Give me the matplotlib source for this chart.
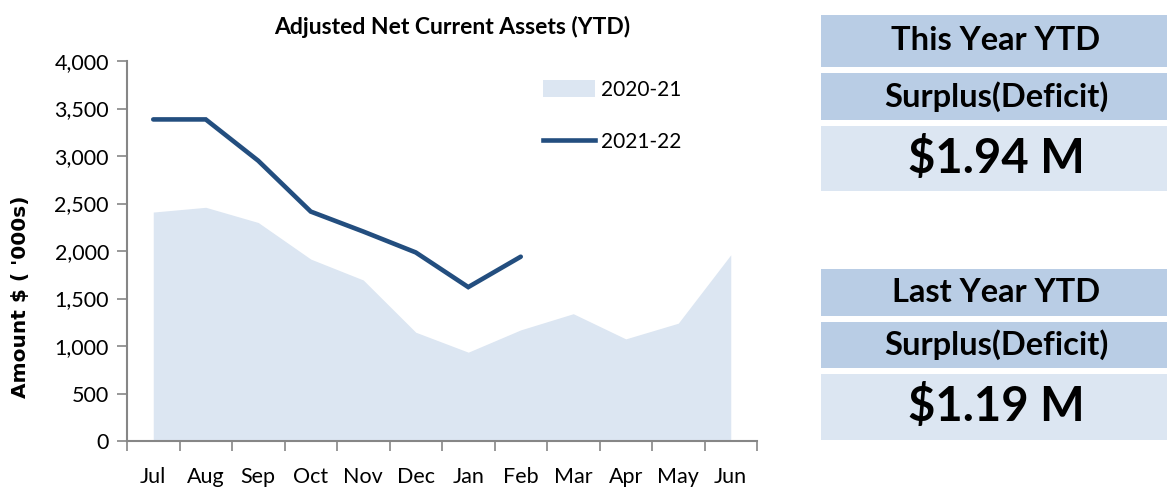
import matplotlib
matplotlib.use("Agg")
import matplotlib.pyplot as plt
from matplotlib.patches import Rectangle, Patch
from matplotlib.lines import Line2D
from matplotlib.ticker import FuncFormatter, FixedLocator

months = ["Jul", "Aug", "Sep", "Oct", "Nov", "Dec", "Jan", "Feb", "Mar", "Apr", "May", "Jun"]
fy2021 = [2410, 2460, 2300, 1915, 1695, 1145, 935, 1170, 1340, 1075, 1240, 1960]
fy2122 = [3385, 3385, 2950, 2415, 2205, 1985, 1620, 1940]
series_names = ["2020-21", "2021-22"]
title = "Adjusted Net Current Assets (YTD)"
ylabel = "Amount $ ( '000s)"
panel_top = ["This Year YTD", "Surplus(Deficit)", "$1.94 M"]
panel_bottom = ["Last Year YTD", "Surplus(Deficit)", "$1.19 M"]

W, H = 1167, 488
fig = plt.figure(figsize=(W / 100, H / 100), dpi=100)

narrow = ["Lato", "DejaVu Sans"]
boldf = ["Lato", "DejaVu Sans"]

DARK = "#B9CDE5"
LIGHT = "#DCE6F2"
LINE = "#234E7F"
AX = "#868686"

def fx(px):
    return px / W

def fy(py):
    return 1 - py / H

ax = fig.add_axes([fx(127), fy(441), fx(757) - fx(127), fy(61) - fy(441)])
xs = list(range(len(months)))
ax.fill_between(xs, fy2021, 0, color=LIGHT, linewidth=0, label=series_names[0])
ax.plot(xs[:len(fy2122)], fy2122, color=LINE, linewidth=3.3, solid_capstyle="round",
        solid_joinstyle="miter", label=series_names[1])
ax.set_xlim(-0.5, len(months) - 0.5)
ax.set_ylim(0, 4000)
ax.set_yticks(range(0, 4001, 500))
ax.yaxis.set_major_formatter(FuncFormatter(lambda v, p: f"{int(v):,}"))
ax.set_xticks(xs)
ax.set_xticklabels(months)
ax.xaxis.set_minor_locator(FixedLocator([i - 0.5 for i in range(len(months) + 1)]))
ax.tick_params(axis="x", which="major", length=0, pad=19)
ax.tick_params(axis="x", which="minor", length=7, width=1.2, color=AX, direction="out")
ax.tick_params(axis="y", length=7, width=1.2, color=AX, pad=6)
for lab in ax.get_xticklabels() + ax.get_yticklabels():
    lab.set_fontfamily(narrow)
    lab.set_fontsize(15.5)
for s in ["top", "right"]:
    ax.spines[s].set_visible(False)
for s in ["left", "bottom"]:
    ax.spines[s].set_color(AX)
    ax.spines[s].set_linewidth(1.5)

fig.text(fx(452), fy(27), title, ha="center", va="center", fontsize=16.5,
         fontweight="bold", family=boldf)
fig.text(fx(21), fy(297), ylabel, ha="center", va="center", rotation=90,
         fontsize=14.5, fontweight="bold", family=["DejaVu Sans"])

handles = [Patch(facecolor=LIGHT, edgecolor="none"),
           Line2D([0], [0], color=LINE, linewidth=3.3)]
leg = ax.legend(handles, series_names, loc="upper left", bbox_to_anchor=(0.63, 1.0),
                frameon=False, handlelength=2.5, handleheight=0.9, handletextpad=0.3,
                labelspacing=1.55, prop={"family": narrow, "size": 15})

def panel(rows, boxes):
    for (y0, y1, col), txt, size in zip(boxes, rows, [23.5, 23.5, 34]):
        fig.patches.append(Rectangle((fx(821), fy(y1)), fx(1167) - fx(821), fy(y0) - fy(y1),
                                     transform=fig.transFigure, facecolor=col,
                                     edgecolor="none", zorder=0))
        fig.text(fx(996), fy((y0 + y1) / 2), txt, ha="center", va="center",
                 fontsize=size, fontweight="bold", family=boldf)

panel(panel_top, [(15, 67, DARK), (73, 120, DARK), (126, 191, LIGHT)])
panel(panel_bottom, [(269, 316, DARK), (322, 368, DARK), (374, 440, LIGHT)])

fig.savefig("out.png", dpi=100)
